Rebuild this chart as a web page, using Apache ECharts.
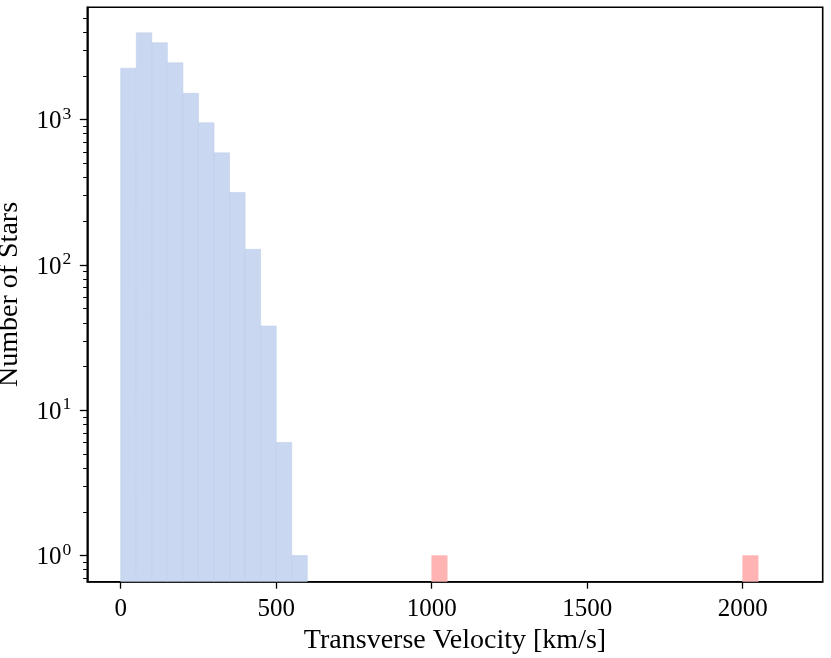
<!DOCTYPE html>
<html>
<head>
<meta charset="utf-8">
<script src="https://cdn.jsdelivr.net/npm/echarts@6/dist/echarts.min.js"></script>
<style>
html,body{margin:0;padding:0;background:#fff;}
#chart{width:831px;height:658px;}
</style>
</head>
<body>
<div id="chart"></div>
<script>
// ---- data ----
const binWidth = 50;
const blueBinLeft = [0, 50, 100, 150, 200, 250, 300, 350, 400, 450, 500, 550];
const blueCounts  = [2260, 3960, 3380, 2460, 1518, 952, 591, 315, 128, 38, 6, 1];
const redBinLeft  = [1000, 2000];
const redCounts   = [1, 1];
const xTickValues = [0, 500, 1000, 1500, 2000];
const yMajorTicks = [1, 10, 100, 1000];
const yMinorTicks = [0.7, 0.8, 0.9, 2, 3, 4, 5, 6, 7, 8, 9, 20, 30, 40, 50, 60, 70, 80, 90,
                     200, 300, 400, 500, 600, 700, 800, 900, 2000, 3000, 4000, 5000];
const xLabel = 'Transverse Velocity [km/s]';
const yLabel = 'Number of Stars';

const X_MIN = -107.5, X_MAX = 2257.5;
const Y_MIN = 0.661, Y_MAX = 5930;

function toBins(lefts, counts) {
  return lefts.map((l, i) => [l, l + binWidth, counts[i]]);
}

function histRender(fill, stroke) {
  return function (params, api) {
    const p0 = api.coord([api.value(0), api.value(2)]);
    const p1 = api.coord([api.value(1), Y_MIN]);
    return {
      type: 'rect',
      shape: { x: p0[0], y: p0[1], width: p1[0] - p0[0], height: p1[1] - p0[1] },
      style: { fill: fill, stroke: stroke, lineWidth: 0.6 }
    };
  };
}

const FONT = 'Liberation Serif';
const chart = echarts.init(document.getElementById('chart'), null, { renderer: 'canvas' });

chart.setOption({
  animation: false,
  backgroundColor: '#ffffff',
  grid: {
    left: 87.3, right: 8.3, top: 7.3, bottom: 76.3,
    containLabel: false,
    outerBoundsMode: 'none',
    show: true, borderColor: '#000', borderWidth: 1.6, backgroundColor: 'transparent'
  },
  xAxis: {
    type: 'value',
    min: X_MIN, max: X_MAX,
    name: xLabel,
    nameLocation: 'middle',
    nameGap: 41,
    nameTextStyle: { fontFamily: FONT, fontSize: 28, color: '#000' },
    axisLine: { show: true, onZero: false, lineStyle: { color: '#000', width: 1.6 } },
    axisTick: { show: true, length: 7, lineStyle: { color: '#000', width: 1.3 }, customValues: xTickValues },
    axisLabel: {
      fontFamily: FONT, fontSize: 25, color: '#000', margin: 15, customValues: xTickValues,
      formatter: function (v) { return String(v); }
    },
    splitLine: { show: false }
  },
  yAxis: [
    {
      type: 'log',
      logBase: 10,
      min: Y_MIN, max: Y_MAX,
      name: yLabel,
      nameLocation: 'middle',
      nameGap: 64,
      nameRotate: 90,
      nameTextStyle: { fontFamily: FONT, fontSize: 28, color: '#000' },
      axisLine: { show: true, onZero: false, lineStyle: { color: '#000', width: 1.6 } },
      axisTick: { show: true, length: 7.5, lineStyle: { color: '#000', width: 1.3 }, customValues: yMajorTicks },
      axisLabel: {
        margin: 16,
        customValues: yMajorTicks,
        formatter: function (v) {
          const e = Math.round(Math.log10(v));
          return '{b|10}{s|' + e + '}';
        },
        rich: {
          b: { fontFamily: FONT, fontSize: 25, color: '#000', verticalAlign: 'bottom' },
          s: { fontFamily: FONT, fontSize: 17.5, color: '#000', verticalAlign: 'bottom', padding: [0, 0, 11, 1] }
        }
      },
      splitLine: { show: false }
    },
    {
      type: 'log',
      logBase: 10,
      min: Y_MIN, max: Y_MAX,
      position: 'left',
      axisLine: { show: false, onZero: false },
      axisTick: { show: true, length: 4.2, lineStyle: { color: '#000', width: 1.0 }, customValues: yMinorTicks },
      axisLabel: { show: false },
      splitLine: { show: false }
    }
  ],
  series: [
    {
      type: 'custom',
      name: 'blue',
      xAxisIndex: 0, yAxisIndex: 0,
      renderItem: histRender('#c9d7f0', 'rgba(190,205,235,0.9)'),
      encode: { x: [0, 1], y: 2 },
      data: toBins(blueBinLeft, blueCounts),
      clip: true
    },
    {
      type: 'custom',
      name: 'red',
      xAxisIndex: 0, yAxisIndex: 0,
      renderItem: histRender('#ffb3b3', 'rgba(255,190,190,0.9)'),
      encode: { x: [0, 1], y: 2 },
      data: toBins(redBinLeft, redCounts),
      clip: true
    }
  ]
});
</script>
</body>
</html>
